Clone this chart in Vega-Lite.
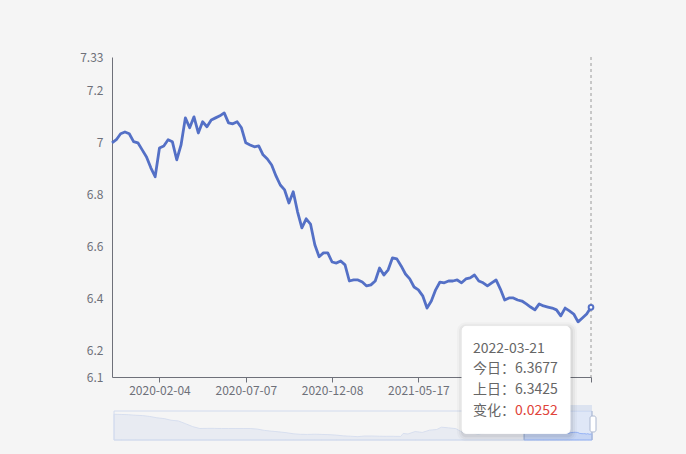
{
  "$schema": "https://vega.github.io/schema/vega-lite/v6.json",
  "width": 479,
  "height": 320,
  "autosize": {"type": "none"},
  "padding": {"left": 112, "top": 57, "right": 95, "bottom": 77},
  "background": "#f5f5f5",
  "config": {"view": {"stroke": null}, "font": "Noto Sans CJK SC"},
  "datasets": {
    "rates": [
      {"date": "2019-11-08", "rate": 7.0},
      {"date": "2019-11-15", "rate": 7.012},
      {"date": "2019-11-22", "rate": 7.035},
      {"date": "2019-11-29", "rate": 7.042},
      {"date": "2019-12-06", "rate": 7.035},
      {"date": "2019-12-13", "rate": 7.005},
      {"date": "2019-12-20", "rate": 7.0},
      {"date": "2019-12-27", "rate": 6.973},
      {"date": "2020-01-06", "rate": 6.946},
      {"date": "2020-01-13", "rate": 6.904},
      {"date": "2020-01-20", "rate": 6.87},
      {"date": "2020-02-04", "rate": 6.98},
      {"date": "2020-02-11", "rate": 6.988},
      {"date": "2020-02-18", "rate": 7.012},
      {"date": "2020-02-25", "rate": 7.004},
      {"date": "2020-03-03", "rate": 6.935},
      {"date": "2020-03-10", "rate": 6.992},
      {"date": "2020-03-17", "rate": 7.096},
      {"date": "2020-03-24", "rate": 7.058},
      {"date": "2020-03-31", "rate": 7.1},
      {"date": "2020-04-08", "rate": 7.038},
      {"date": "2020-04-15", "rate": 7.081},
      {"date": "2020-04-22", "rate": 7.062},
      {"date": "2020-04-29", "rate": 7.088},
      {"date": "2020-05-12", "rate": 7.096},
      {"date": "2020-05-19", "rate": 7.104},
      {"date": "2020-05-26", "rate": 7.115},
      {"date": "2020-06-02", "rate": 7.077},
      {"date": "2020-06-09", "rate": 7.073},
      {"date": "2020-06-16", "rate": 7.081},
      {"date": "2020-06-24", "rate": 7.058},
      {"date": "2020-07-07", "rate": 7.0},
      {"date": "2020-07-14", "rate": 6.992},
      {"date": "2020-07-21", "rate": 6.985},
      {"date": "2020-07-28", "rate": 6.988},
      {"date": "2020-08-04", "rate": 6.954},
      {"date": "2020-08-11", "rate": 6.938},
      {"date": "2020-08-18", "rate": 6.915},
      {"date": "2020-08-25", "rate": 6.873},
      {"date": "2020-09-01", "rate": 6.838},
      {"date": "2020-09-08", "rate": 6.819},
      {"date": "2020-09-15", "rate": 6.769},
      {"date": "2020-09-22", "rate": 6.812},
      {"date": "2020-09-29", "rate": 6.735},
      {"date": "2020-10-13", "rate": 6.673},
      {"date": "2020-10-20", "rate": 6.708},
      {"date": "2020-10-27", "rate": 6.688},
      {"date": "2020-11-03", "rate": 6.608},
      {"date": "2020-11-10", "rate": 6.562},
      {"date": "2020-11-17", "rate": 6.577},
      {"date": "2020-11-24", "rate": 6.577},
      {"date": "2020-12-08", "rate": 6.542},
      {"date": "2020-12-15", "rate": 6.538},
      {"date": "2020-12-22", "rate": 6.546},
      {"date": "2020-12-29", "rate": 6.531},
      {"date": "2021-01-06", "rate": 6.469},
      {"date": "2021-01-13", "rate": 6.473},
      {"date": "2021-01-20", "rate": 6.473},
      {"date": "2021-01-27", "rate": 6.465},
      {"date": "2021-02-03", "rate": 6.45},
      {"date": "2021-02-10", "rate": 6.454},
      {"date": "2021-02-22", "rate": 6.469},
      {"date": "2021-03-01", "rate": 6.519},
      {"date": "2021-03-09", "rate": 6.492},
      {"date": "2021-03-17", "rate": 6.512},
      {"date": "2021-03-25", "rate": 6.558},
      {"date": "2021-04-02", "rate": 6.554},
      {"date": "2021-04-12", "rate": 6.527},
      {"date": "2021-04-20", "rate": 6.496},
      {"date": "2021-04-28", "rate": 6.477},
      {"date": "2021-05-10", "rate": 6.446},
      {"date": "2021-05-17", "rate": 6.435},
      {"date": "2021-05-24", "rate": 6.412},
      {"date": "2021-05-31", "rate": 6.365},
      {"date": "2021-06-07", "rate": 6.392},
      {"date": "2021-06-15", "rate": 6.435},
      {"date": "2021-06-22", "rate": 6.465},
      {"date": "2021-06-29", "rate": 6.462},
      {"date": "2021-07-06", "rate": 6.469},
      {"date": "2021-07-13", "rate": 6.469},
      {"date": "2021-07-20", "rate": 6.473},
      {"date": "2021-07-27", "rate": 6.462},
      {"date": "2021-08-03", "rate": 6.477},
      {"date": "2021-08-10", "rate": 6.481},
      {"date": "2021-08-17", "rate": 6.492},
      {"date": "2021-08-24", "rate": 6.469},
      {"date": "2021-08-31", "rate": 6.462},
      {"date": "2021-09-07", "rate": 6.45},
      {"date": "2021-09-14", "rate": 6.462},
      {"date": "2021-09-23", "rate": 6.473},
      {"date": "2021-09-30", "rate": 6.438},
      {"date": "2021-10-12", "rate": 6.396},
      {"date": "2021-10-19", "rate": 6.404},
      {"date": "2021-10-26", "rate": 6.404},
      {"date": "2021-11-02", "rate": 6.396},
      {"date": "2021-11-09", "rate": 6.392},
      {"date": "2021-11-16", "rate": 6.381},
      {"date": "2021-11-23", "rate": 6.369},
      {"date": "2021-11-30", "rate": 6.358},
      {"date": "2021-12-07", "rate": 6.381},
      {"date": "2021-12-14", "rate": 6.373},
      {"date": "2021-12-21", "rate": 6.369},
      {"date": "2021-12-28", "rate": 6.365},
      {"date": "2022-01-05", "rate": 6.358},
      {"date": "2022-01-12", "rate": 6.335},
      {"date": "2022-01-19", "rate": 6.365},
      {"date": "2022-01-26", "rate": 6.354},
      {"date": "2022-02-10", "rate": 6.342},
      {"date": "2022-02-21", "rate": 6.312},
      {"date": "2022-03-04", "rate": 6.327},
      {"date": "2022-03-18", "rate": 6.3425},
      {"date": "2022-03-21", "rate": 6.3677}
    ],
    "history": [
      {"date": "2005-07-21", "rate": 8.11},
      {"date": "2005-10-20", "rate": 8.09},
      {"date": "2006-01-20", "rate": 8.07},
      {"date": "2006-04-20", "rate": 8.02},
      {"date": "2006-07-20", "rate": 7.99},
      {"date": "2006-10-20", "rate": 7.91},
      {"date": "2007-01-19", "rate": 7.79},
      {"date": "2007-04-20", "rate": 7.72},
      {"date": "2007-07-20", "rate": 7.57},
      {"date": "2007-10-19", "rate": 7.51},
      {"date": "2008-01-18", "rate": 7.26},
      {"date": "2008-04-18", "rate": 7.0},
      {"date": "2008-07-18", "rate": 6.83},
      {"date": "2008-10-20", "rate": 6.84},
      {"date": "2009-01-20", "rate": 6.84},
      {"date": "2009-04-20", "rate": 6.83},
      {"date": "2009-07-20", "rate": 6.83},
      {"date": "2009-10-20", "rate": 6.83},
      {"date": "2010-01-20", "rate": 6.83},
      {"date": "2010-04-20", "rate": 6.83},
      {"date": "2010-07-20", "rate": 6.78},
      {"date": "2010-10-20", "rate": 6.66},
      {"date": "2011-01-20", "rate": 6.59},
      {"date": "2011-04-20", "rate": 6.53},
      {"date": "2011-07-20", "rate": 6.46},
      {"date": "2011-10-20", "rate": 6.36},
      {"date": "2012-01-20", "rate": 6.31},
      {"date": "2012-04-20", "rate": 6.3},
      {"date": "2012-07-20", "rate": 6.32},
      {"date": "2012-10-19", "rate": 6.3},
      {"date": "2013-01-18", "rate": 6.28},
      {"date": "2013-04-19", "rate": 6.24},
      {"date": "2013-07-19", "rate": 6.17},
      {"date": "2013-10-18", "rate": 6.14},
      {"date": "2014-01-20", "rate": 6.1},
      {"date": "2014-04-18", "rate": 6.16},
      {"date": "2014-07-18", "rate": 6.16},
      {"date": "2014-10-20", "rate": 6.14},
      {"date": "2015-01-20", "rate": 6.13},
      {"date": "2015-04-20", "rate": 6.13},
      {"date": "2015-07-20", "rate": 6.12},
      {"date": "2015-08-20", "rate": 6.39},
      {"date": "2015-10-20", "rate": 6.34},
      {"date": "2016-01-20", "rate": 6.56},
      {"date": "2016-04-20", "rate": 6.48},
      {"date": "2016-07-20", "rate": 6.68},
      {"date": "2016-10-20", "rate": 6.74},
      {"date": "2016-12-20", "rate": 6.95},
      {"date": "2017-03-20", "rate": 6.89},
      {"date": "2017-06-20", "rate": 6.82},
      {"date": "2017-09-08", "rate": 6.51},
      {"date": "2017-12-20", "rate": 6.59},
      {"date": "2018-03-26", "rate": 6.29},
      {"date": "2018-06-20", "rate": 6.46},
      {"date": "2018-09-20", "rate": 6.87},
      {"date": "2018-12-20", "rate": 6.88},
      {"date": "2019-03-20", "rate": 6.71},
      {"date": "2019-06-20", "rate": 6.88},
      {"date": "2019-09-03", "rate": 7.09},
      {"date": "2019-11-08", "rate": 7.0},
      {"date": "2019-12-06", "rate": 7.035},
      {"date": "2020-01-20", "rate": 6.87},
      {"date": "2020-02-18", "rate": 7.012},
      {"date": "2020-03-03", "rate": 6.935},
      {"date": "2020-03-31", "rate": 7.1},
      {"date": "2020-04-08", "rate": 7.038},
      {"date": "2020-05-26", "rate": 7.115},
      {"date": "2020-07-07", "rate": 7.0},
      {"date": "2020-08-25", "rate": 6.873},
      {"date": "2020-09-29", "rate": 6.735},
      {"date": "2020-11-10", "rate": 6.562},
      {"date": "2020-12-29", "rate": 6.531},
      {"date": "2021-02-03", "rate": 6.45},
      {"date": "2021-03-25", "rate": 6.558},
      {"date": "2021-05-17", "rate": 6.435},
      {"date": "2021-05-31", "rate": 6.365},
      {"date": "2021-06-22", "rate": 6.465},
      {"date": "2021-08-17", "rate": 6.492},
      {"date": "2021-09-23", "rate": 6.473},
      {"date": "2021-10-12", "rate": 6.396},
      {"date": "2021-11-30", "rate": 6.358},
      {"date": "2021-12-07", "rate": 6.381},
      {"date": "2022-01-12", "rate": 6.335},
      {"date": "2022-01-19", "rate": 6.365},
      {"date": "2022-02-21", "rate": 6.312},
      {"date": "2022-03-18", "rate": 6.3425},
      {"date": "2022-03-21", "rate": 6.3677}
    ],
    "zoom": [
      {"part": "all", "start": "2005-07-21", "end": "2022-03-21"},
      {"part": "selected", "start": "2019-11-08", "end": "2022-03-21"}
    ],
    "handles": [
      {"at": "2019-11-08"},
      {"at": "2022-03-21"}
    ],
    "tip": [
      {"date": "2022-03-21", "rate": 6.3677, "title": "2022-03-21", "today": "今日：6.3677", "prev": "上日：6.3425", "changeLabel": "变化：", "change": "0.0252"}
    ]
  },
  "layer": [
    {
      "layer": [
        {
          "data": {"name": "zoom"},
          "transform": [{"filter": "datum.part == 'all'"}],
          "mark": {"type": "rect", "fill": "#f5f5f5", "fillOpacity": 0, "stroke": "#d2dbee", "strokeWidth": 1},
          "encoding": {
            "x": {"field": "start", "type": "temporal", "scale": {"range": [2, 480]}, "axis": null},
            "x2": {"field": "end"},
            "y": {"datum": 5.8, "type": "quantitative", "scale": {"domain": [5.8, 8.4], "range": [383, 354], "nice": false, "zero": false}, "axis": null},
            "y2": {"datum": 8.4}
          }
        },
        {
          "data": {"name": "history"},
          "mark": {"type": "area", "fill": "#d2dbee", "fillOpacity": 0.35, "stroke": "#d2dbee", "strokeWidth": 0.8},
          "encoding": {
            "x": {"field": "date", "type": "temporal", "scale": {"range": [2, 480]}, "axis": null},
            "y": {"field": "rate", "type": "quantitative", "scale": {"domain": [5.8, 8.4], "range": [383, 354], "nice": false, "zero": false}, "axis": null},
            "y2": {"datum": 5.8}
          }
        },
        {
          "data": {"name": "zoom"},
          "transform": [{"filter": "datum.part == 'selected'"}],
          "mark": {"type": "rect", "fill": "#87afff", "fillOpacity": 0.2},
          "encoding": {
            "x": {"field": "start", "type": "temporal", "scale": {"range": [2, 480]}, "axis": null},
            "x2": {"field": "end"},
            "y": {"datum": 5.8, "type": "quantitative", "scale": {"domain": [5.8, 8.4], "range": [383, 354], "nice": false, "zero": false}, "axis": null},
            "y2": {"datum": 8.4}
          }
        },
        {
          "data": {"name": "zoom"},
          "transform": [{"filter": "datum.part == 'selected'"}],
          "mark": {"type": "rect", "fill": "#d2dbee", "fillOpacity": 0.7},
          "encoding": {
            "x": {"field": "start", "type": "temporal", "scale": {"range": [2, 480]}, "axis": null},
            "x2": {"field": "end"},
            "y": {"datum": 8.4, "type": "quantitative", "scale": {"domain": [5.8, 8.4], "range": [383, 354], "nice": false, "zero": false}, "axis": null},
            "y2": {"datum": 8.94}
          }
        },
        {
          "data": {"name": "history"},
          "transform": [{"filter": "time(datum.date) >= time('2019-11-08')"}],
          "mark": {"type": "area", "fill": "#8fb0f7", "fillOpacity": 0.2, "stroke": "#8fb0f7", "strokeWidth": 0.8},
          "encoding": {
            "x": {"field": "date", "type": "temporal", "scale": {"range": [2, 480]}, "axis": null},
            "y": {"field": "rate", "type": "quantitative", "scale": {"domain": [5.8, 8.4], "range": [383, 354], "nice": false, "zero": false}, "axis": null},
            "y2": {"datum": 5.8}
          }
        },
        {
          "data": {"name": "handles"},
          "mark": {"type": "rule", "stroke": "#acb8d1", "strokeWidth": 1},
          "encoding": {
            "x": {"field": "at", "type": "temporal", "scale": {"range": [2, 480]}, "axis": null},
            "y": {"datum": 5.8, "type": "quantitative", "scale": {"domain": [5.8, 8.4], "range": [383, 354], "nice": false, "zero": false}, "axis": null},
            "y2": {"datum": 8.4}
          }
        },
        {
          "data": {"name": "handles"},
          "mark": {"type": "rect", "fill": "#ffffff", "stroke": "#acb8d1", "strokeWidth": 1, "cornerRadius": 2, "xOffset": -2, "x2Offset": 4},
          "encoding": {
            "x": {"field": "at", "type": "temporal", "scale": {"range": [2, 480]}, "axis": null},
            "x2": {"field": "at"},
            "y": {"datum": 6.52, "type": "quantitative", "scale": {"domain": [5.8, 8.4], "range": [383, 354], "nice": false, "zero": false}, "axis": null},
            "y2": {"datum": 7.95}
          }
        }
      ]
    },
    {
      "encoding": {
        "x": {
          "field": "date",
          "type": "ordinal",
          "scale": {"type": "point", "padding": 0},
          "axis": {
            "orient": "bottom",
            "title": null,
            "values": ["2020-02-04", "2020-07-07", "2020-12-08", "2021-05-17", "2022-03-21"],
            "labelExpr": "datum.value == '2022-03-21' ? '' : datum.value",
            "labelAngle": 0,
            "labelOverlap": false,
            "labelColor": "#6e7079",
            "labelFontSize": 12,
            "labelPadding": 3,
            "tickSize": 5,
            "tickColor": "#6e7079",
            "domainColor": "#6e7079",
            "grid": false
          }
        },
        "y": {
          "field": "rate",
          "type": "quantitative",
          "scale": {"domain": [6.1, 7.33], "nice": false, "zero": false},
          "axis": {
            "orient": "left",
            "title": null,
            "values": [6.1, 6.2, 6.4, 6.6, 6.8, 7, 7.2, 7.33],
            "labelExpr": "toString(datum.value)",
            "ticks": false,
            "tickSize": 0,
            "labelPadding": 9,
            "labelColor": "#6e7079",
            "labelFontSize": 12,
            "domainColor": "#6e7079",
            "grid": false
          }
        }
      },
      "layer": [
        {
          "data": {"name": "tip"},
          "mark": {"type": "rule", "stroke": "#9a9a9a", "strokeWidth": 1, "strokeDash": [3, 3]},
          "encoding": {
            "y": {"datum": 7.33, "type": "quantitative", "scale": {"domain": [6.1, 7.33], "nice": false, "zero": false}},
            "y2": {"datum": 6.1}
          }
        },
        {
          "data": {"name": "rates"},
          "mark": {"type": "line", "stroke": "#5470c6", "strokeWidth": 2.8, "strokeJoin": "round"}
        },
        {
          "data": {"name": "tip"},
          "mark": {"type": "point", "filled": true, "fill": "#ffffff", "stroke": "#5470c6", "strokeWidth": 2, "size": 22, "opacity": 1}
        },
        {
          "data": {"name": "tip"},
          "mark": {"type": "rect", "fill": "#000000", "fillOpacity": 0.025, "cornerRadius": 9, "xOffset": -134, "x2Offset": -14, "yOffset": 15, "y2Offset": 134},
          "encoding": {"x2": {"field": "date"}, "y2": {"field": "rate"}}
        },
        {
          "data": {"name": "tip"},
          "mark": {"type": "rect", "fill": "#000000", "fillOpacity": 0.035, "cornerRadius": 7, "xOffset": -132, "x2Offset": -16, "yOffset": 17, "y2Offset": 132},
          "encoding": {"x2": {"field": "date"}, "y2": {"field": "rate"}}
        },
        {
          "data": {"name": "tip"},
          "mark": {"type": "rect", "fill": "#000000", "fillOpacity": 0.05, "cornerRadius": 5, "xOffset": -130, "x2Offset": -18, "yOffset": 19, "y2Offset": 130},
          "encoding": {"x2": {"field": "date"}, "y2": {"field": "rate"}}
        },
        {
          "data": {"name": "tip"},
          "mark": {"type": "rect", "fill": "#ffffff", "stroke": "#ffffff", "cornerRadius": 4, "xOffset": -129, "x2Offset": -21, "yOffset": 19, "y2Offset": 126},
          "encoding": {"x2": {"field": "date"}, "y2": {"field": "rate"}}
        },
        {
          "data": {"name": "tip"},
          "mark": {"type": "text", "align": "left", "baseline": "middle", "dx": -118, "dy": 41.6, "fontSize": 14, "color": "#666666", "font": "Noto Sans CJK SC"},
          "encoding": {"text": {"field": "title"}}
        },
        {
          "data": {"name": "tip"},
          "mark": {"type": "text", "align": "left", "baseline": "middle", "dx": -118, "dy": 62.1, "fontSize": 14, "color": "#666666", "font": "Noto Sans CJK SC"},
          "encoding": {"text": {"field": "today"}}
        },
        {
          "data": {"name": "tip"},
          "mark": {"type": "text", "align": "left", "baseline": "middle", "dx": -118, "dy": 82.9, "fontSize": 14, "color": "#666666", "font": "Noto Sans CJK SC"},
          "encoding": {"text": {"field": "prev"}}
        },
        {
          "data": {"name": "tip"},
          "mark": {"type": "text", "align": "left", "baseline": "middle", "dx": -118, "dy": 103.6, "fontSize": 14, "color": "#666666", "font": "Noto Sans CJK SC"},
          "encoding": {"text": {"field": "changeLabel"}}
        },
        {
          "data": {"name": "tip"},
          "mark": {"type": "text", "align": "left", "baseline": "middle", "dx": -76, "dy": 103.6, "fontSize": 14, "color": "#e0443a", "font": "Noto Sans CJK SC"},
          "encoding": {"text": {"field": "change"}}
        }
      ]
    }
  ],
  "resolve": {"scale": {"x": "independent", "y": "independent"}, "axis": {"x": "independent", "y": "independent"}}
}
